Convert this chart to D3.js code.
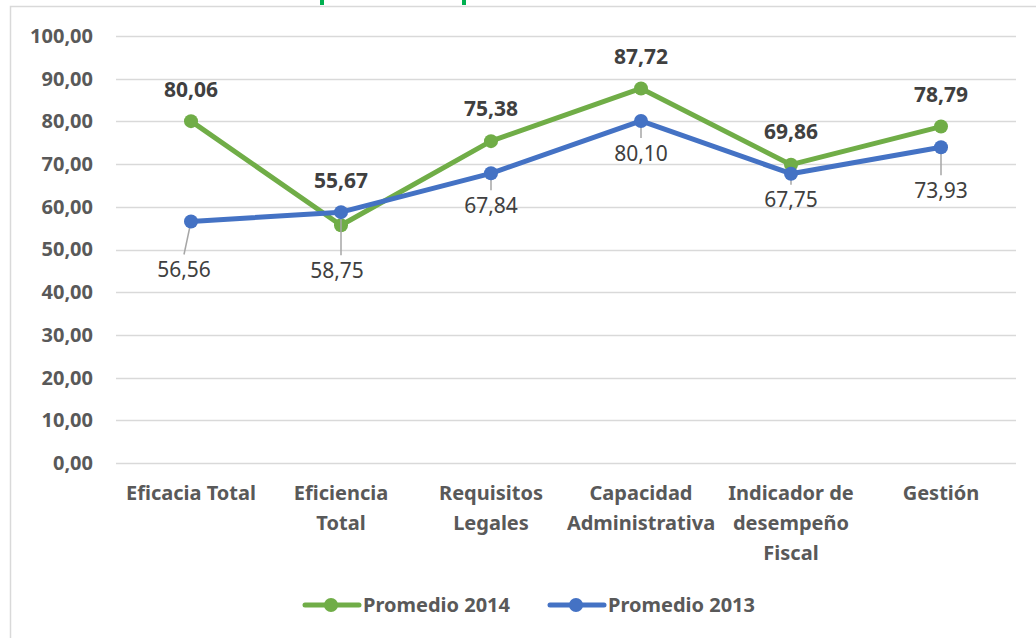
<!DOCTYPE html>
<html>
<head>
<meta charset="utf-8">
<script src="https://cdnjs.cloudflare.com/ajax/libs/d3/7.8.5/d3.min.js"></script>
<style>
  body { margin: 0; background: #fff; }
  text { font-family: "Noto Sans", "Open Sans", sans-serif; }
</style>
</head>
<body>
<div id="chart"></div>
<script>
// categories and series
var categories = ['Eficacia Total', 'Eficiencia Total', 'Requisitos Legales',
  'Capacidad Administrativa', 'Indicador de desempeño Fiscal', 'Gestión'];
var categoryLines = [['Eficacia Total'], ['Eficiencia', 'Total'], ['Requisitos', 'Legales'],
  ['Capacidad', 'Administrativa'], ['Indicador de', 'desempeño', 'Fiscal'], ['Gestión']];
var promedio2014 = [80.06, 55.67, 75.38, 87.72, 69.86, 78.79];
var promedio2013 = [56.56, 58.75, 67.84, 80.10, 67.75, 73.93];
var yTicks = [0, 10, 20, 30, 40, 50, 60, 70, 80, 90, 100];

// label placement (offsets from the point, px)
var offs2014 = [[0, -32], [0, -45], [0, -33], [0, -32], [0, -33], [0, -32]];
var offs2013 = [[-7, 48], [-4, 58], [0, 32], [0, 32], [0, 26], [0, 43]];

var W = 1036, H = 638;
var green = '#70ad47', blue = '#4472c4';

var svg = d3.select('#chart').append('svg')
    .attr('width', W).attr('height', H);

// chart frame (only top and left show)
svg.append('path')
    .attr('d', 'M10.5,' + H + 'V6.5H' + W)
    .attr('fill', 'none').attr('stroke', '#d9d9d9').attr('stroke-width', 1.5);

// fragments of a title cut off above
svg.append('rect').attr('x', 320).attr('y', 0).attr('width', 4).attr('height', 5).attr('fill', '#00b050');
svg.append('rect').attr('x', 462).attr('y', 0).attr('width', 4).attr('height', 5).attr('fill', '#00b050');

var x = d3.scalePoint().domain(categories).range([116, 1016]).padding(0.5);
var y = d3.scaleLinear().domain([0, 100]).range([463, 36]);

var fmt = function(v) { return d3.format('.2f')(v).replace('.', ','); };

// gridlines
svg.append('g').selectAll('line').data(yTicks).enter().append('line')
    .attr('x1', 116).attr('x2', 1016)
    .attr('y1', function(d) { return Math.round(y(d)) + 0.5; })
    .attr('y2', function(d) { return Math.round(y(d)) + 0.5; })
    .attr('stroke', '#d9d9d9').attr('stroke-width', 1.5);

// y axis labels
var yAxis = d3.axisLeft(y).tickValues(yTicks).tickFormat(fmt).tickSize(0).tickPadding(23);
var gy = svg.append('g').attr('transform', 'translate(116,0)').call(yAxis);
gy.select('.domain').remove();
gy.selectAll('text')
    .attr('fill', '#595959').style('font-size', '20px').style('font-weight', 'bold')
    .style('font-family', '"Noto Sans", sans-serif');

// category labels
var gx = svg.append('g');
categoryLines.forEach(function(lines, i) {
  var t = gx.append('text').attr('text-anchor', 'middle')
      .attr('fill', '#595959').style('font-size', '20px').style('font-weight', 'bold');
  lines.forEach(function(s, j) {
    t.append('tspan').attr('x', x(categories[i])).attr('y', 500 + j * 30).text(s);
  });
});

function drawSeries(values, color) {
  var line = d3.line()
      .x(function(d, i) { return x(categories[i]); })
      .y(function(d) { return y(d); });
  svg.append('path').datum(values)
      .attr('d', line).attr('fill', 'none')
      .attr('stroke', color).attr('stroke-width', 5).attr('stroke-linejoin', 'round')
      .attr('stroke-linecap', 'round');
  svg.append('g').selectAll('circle').data(values).enter().append('circle')
      .attr('cx', function(d, i) { return x(categories[i]); })
      .attr('cy', function(d) { return y(d); })
      .attr('r', 7).attr('fill', color);
}

drawSeries(promedio2014, green);

// leader lines for 2013 labels (slanted only when the label is moved sideways a lot)
svg.append('g').selectAll('line').data(promedio2013).enter().append('line')
    .attr('x1', function(d, i) { return x(categories[i]); })
    .attr('y1', function(d) { return y(d); })
    .attr('x2', function(d, i) {
      var dx = offs2013[i][0];
      return x(categories[i]) + (Math.abs(dx) > 5 ? dx : 0);
    })
    .attr('y2', function(d, i) { return y(d) + offs2013[i][1] - 15; })
    .attr('stroke', '#a6a6a6').attr('stroke-width', 1.5);

drawSeries(promedio2013, blue);

// data labels
svg.append('g').selectAll('text').data(promedio2014).enter().append('text')
    .attr('x', function(d, i) { return x(categories[i]) + offs2014[i][0]; })
    .attr('y', function(d, i) { return y(d) + offs2014[i][1]; })
    .attr('dy', '0.36em').attr('text-anchor', 'middle')
    .attr('fill', '#404040').style('font-size', '21px').style('font-weight', 'bold')
    .text(fmt);

svg.append('g').selectAll('text').data(promedio2013).enter().append('text')
    .attr('x', function(d, i) { return x(categories[i]) + offs2013[i][0]; })
    .attr('y', function(d, i) { return y(d) + offs2013[i][1]; })
    .attr('dy', '0.36em').attr('text-anchor', 'middle')
    .attr('fill', '#404040').style('font-size', '21px')
    .text(fmt);

// legend
var legend = [{ name: 'Promedio 2014', color: green, x: 303 }, { name: 'Promedio 2013', color: blue, x: 548 }];
var lg = svg.append('g').selectAll('g').data(legend).enter().append('g')
    .attr('transform', function(d) { return 'translate(' + d.x + ',605)'; });
lg.append('line').attr('x1', 2).attr('x2', 56)
    .attr('stroke', function(d) { return d.color; }).attr('stroke-width', 5).attr('stroke-linecap', 'round');
lg.append('circle').attr('cx', 28).attr('r', 7).attr('fill', function(d) { return d.color; });
lg.append('text').attr('x', 60).attr('dy', '0.36em')
    .attr('fill', '#595959').style('font-size', '20px').style('font-weight', 'bold')
    .text(function(d) { return d.name; });
</script>
</body>
</html>
